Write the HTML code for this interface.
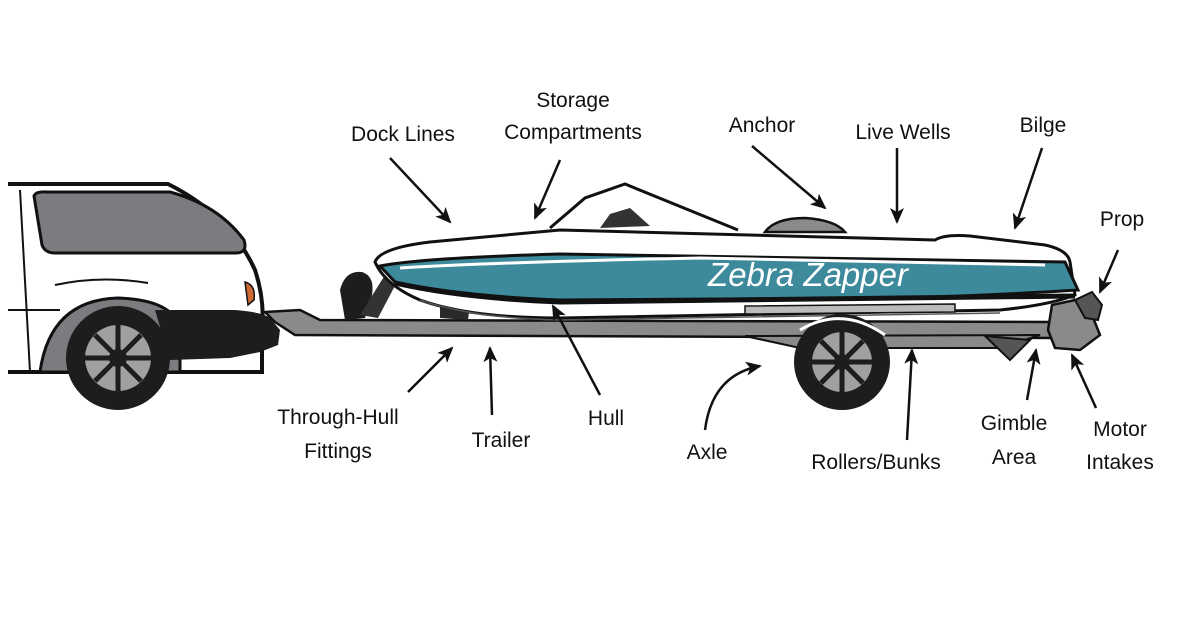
<!DOCTYPE html>
<html><head><meta charset="utf-8"><style>
html,body{margin:0;padding:0;background:#fff;}
svg{display:block}
text{font-family:"Liberation Sans",sans-serif;font-size:21px;fill:#111;text-anchor:middle}
</style></head><body>
<svg width="1200" height="630" viewBox="0 0 1200 630" xmlns="http://www.w3.org/2000/svg">
<defs>
<marker id="ah" markerWidth="16" markerHeight="14" refX="14" refY="7" orient="auto" markerUnits="userSpaceOnUse">
<path d="M0,0 L16,7 L0,14 L4,7 Z" fill="#111"/></marker>
</defs>
<rect width="1200" height="630" fill="#fff"/>
<!-- CAR -->
<path d="M8,184 L168,184 Q230,215 255,270 Q265,300 262,330 L262,372 L8,372" fill="#fff" stroke="#111" stroke-width="4"/>
<line x1="20" y1="190" x2="30" y2="372" stroke="#111" stroke-width="2"/>
<line x1="8" y1="310" x2="60" y2="310" stroke="#111" stroke-width="2"/>
<path d="M34,196 Q36,191 47,192 L170,192 Q218,205 244,240 Q248,253 236,253 L55,253 Q45,253 42,245 Z" fill="#7b7b80" stroke="#111" stroke-width="3"/>
<path d="M55,285 Q100,275 148,283" fill="none" stroke="#111" stroke-width="2"/>
<path d="M245,282 Q256,285 254,300 L248,305 Z" fill="#d06a35" stroke="#111" stroke-width="1.5"/>
<path d="M40,372 Q50,300 118,298 Q175,300 180,330 L180,372 Z" fill="#7b7b80" stroke="#111" stroke-width="3"/>
<path d="M155,310 L235,310 Q262,312 270,318 L280,330 L278,345 L260,352 L230,358 L170,360 Z" fill="#1d1d1d"/>
<circle cx="118" cy="358" r="52" fill="#1d1d1d"/>
<circle cx="118" cy="358" r="33" fill="#a0a0a3"/>
<g stroke="#1d1d1d" stroke-width="5">
<line x1="118" y1="325" x2="118" y2="391"/><line x1="85" y1="358" x2="151" y2="358"/>
<line x1="95" y1="335" x2="141" y2="381"/><line x1="141" y1="335" x2="95" y2="381"/></g>
<circle cx="118" cy="358" r="9" fill="#1d1d1d"/>
<!-- TRAILER -->
<path d="M265,312 L300,310 L320,320 L1060,322 L1062,338 L295,335 L275,322 Z" fill="#8a8a8d" stroke="#111" stroke-width="2.5"/>
<path d="M745,336 L800,348 L1000,348 L1040,335 Z" fill="#8a8a8d" stroke="#111" stroke-width="2"/>
<path d="M985,336 L1010,360 L1030,340 Z" fill="#555" stroke="#111" stroke-width="2"/>
<path d="M340,290 Q345,270 362,272 Q375,276 372,295 L365,318 L345,320 Z" fill="#1d1d1d"/>
<path d="M360,315 L385,275 L398,280 L378,318 Z" fill="#333"/>
<path d="M440,300 L470,304 L468,320 L440,318 Z" fill="#2a2a2a"/>
<!-- BOAT -->
<path d="M375,262 Q380,248 430,242 L560,230 L935,240 Q945,234 970,236 L1045,245 Q1068,250 1070,262 L1075,295 Q1050,305 1000,310 L560,318 Q470,318 420,300 Q385,285 375,262 Z" fill="#fff" stroke="#111" stroke-width="3"/>
<path d="M380,266 Q420,258 560,254 L1065,262 L1078,290 Q1000,295 900,298 L560,300 Q460,296 395,282 Z" fill="#3d8a9c" stroke="#111" stroke-width="3"/>
<path d="M400,268 Q500,262 700,258 L1045,265" fill="none" stroke="#fff" stroke-width="3"/>
<path d="M395,283 Q460,298 560,302 L1075,296" fill="none" stroke="#111" stroke-width="5"/>
<path d="M420,300 Q470,318 560,320 L1000,313" fill="none" stroke="#555" stroke-width="1.5"/>
<path d="M745,306 L955,304 L955,312 L745,314 Z" fill="#bbb" stroke="#111" stroke-width="1.5"/>
<path d="M550,228 L585,198 L625,184 L738,230" fill="none" stroke="#111" stroke-width="3"/>
<path d="M600,228 L610,214 L630,208 L650,226 Z" fill="#333"/>
<path d="M765,232 Q775,218 805,218 Q835,220 845,232 Z" fill="#8a8a8d" stroke="#111" stroke-width="2.5"/>
<text x="808" y="286" style="font-size:33px;fill:#fff;font-style:italic">Zebra Zapper</text>
<!-- motor -->
<path d="M1052,305 L1075,300 L1090,310 L1100,335 L1080,350 L1055,348 L1048,330 Z" fill="#8a8a8d" stroke="#111" stroke-width="2.5"/>
<path d="M1075,300 L1092,292 L1102,305 L1098,320 L1085,318 Z" fill="#555" stroke="#111" stroke-width="2"/>
<circle cx="842" cy="362" r="48" fill="#1d1d1d"/>
<path d="M800,330 Q842,305 885,335" fill="none" stroke="#fff" stroke-width="3"/>
<circle cx="842" cy="362" r="30" fill="#a0a0a3"/>
<g stroke="#1d1d1d" stroke-width="5">
<line x1="842" y1="332" x2="842" y2="392"/><line x1="812" y1="362" x2="872" y2="362"/>
<line x1="821" y1="341" x2="863" y2="383"/><line x1="863" y1="341" x2="821" y2="383"/></g>
<circle cx="842" cy="362" r="8" fill="#1d1d1d"/>
<!-- ARROWS -->
<g stroke="#111" stroke-width="2.5" fill="none" marker-end="url(#ah)">
<line x1="390" y1="158" x2="450" y2="222"/>
<line x1="560" y1="160" x2="535" y2="218"/>
<line x1="752" y1="146" x2="825" y2="208"/>
<line x1="897" y1="148" x2="897" y2="222"/>
<line x1="1042" y1="148" x2="1015" y2="228"/>
<line x1="1118" y1="250" x2="1100" y2="292"/>
<line x1="408" y1="392" x2="452" y2="348"/>
<line x1="492" y1="415" x2="490" y2="348"/>
<line x1="600" y1="395" x2="553" y2="306"/>
<path d="M705,430 Q712,375 760,366"/>
<line x1="907" y1="440" x2="912" y2="350"/>
<line x1="1027" y1="400" x2="1036" y2="350"/>
<line x1="1096" y1="408" x2="1072" y2="355"/>
</g>
<!-- LABELS -->
<text x="403" y="141">Dock Lines</text>
<text x="573" y="107">Storage</text>
<text x="573" y="139">Compartments</text>
<text x="762" y="132">Anchor</text>
<text x="903" y="139">Live Wells</text>
<text x="1043" y="132">Bilge</text>
<text x="1122" y="226">Prop</text>
<text x="338" y="424">Through-Hull</text>
<text x="338" y="458">Fittings</text>
<text x="501" y="447">Trailer</text>
<text x="606" y="425">Hull</text>
<text x="707" y="459">Axle</text>
<text x="876" y="469">Rollers/Bunks</text>
<text x="1014" y="430">Gimble</text>
<text x="1014" y="464">Area</text>
<text x="1120" y="436">Motor</text>
<text x="1120" y="469">Intakes</text>
</svg>
</body></html>
